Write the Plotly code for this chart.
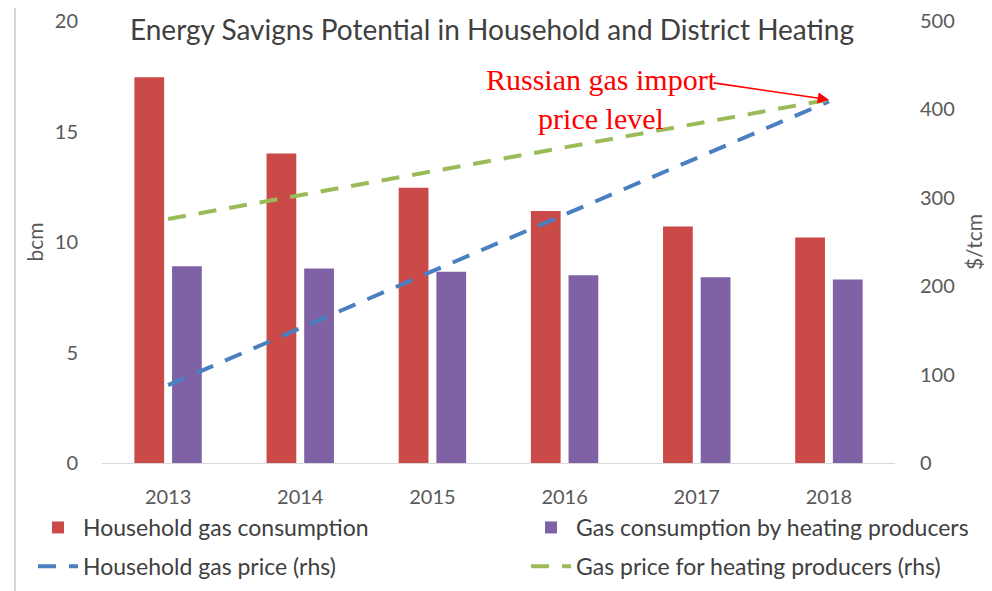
import plotly.graph_objects as go

years = ["2013", "2014", "2015", "2016", "2017", "2018"]
household_consumption = [17.45, 14.0, 12.45, 11.4, 10.7, 10.2]
heating_consumption = [8.9, 8.8, 8.65, 8.5, 8.4, 8.3]
household_price = [88, 153, 217, 281, 345, 409]
heating_price = [276, 303, 330, 357, 384, 411]

FONT = "Lato"
OFF = 8  # default page margin of the html body
W, H = 992 - OFF, 591 - OFF
L, R, T, B = 102 - OFF, 97, 21 - OFF, 128
PW, PH = W - L - R, H - T - B


def px(xs):
    return (xs - OFF - L) / PW


def py(ys):
    return (H - B - (ys - OFF)) / PH


fig = go.Figure()
fig.add_trace(go.Bar(x=years, y=household_consumption, name="Household gas consumption",
                     marker=dict(color="#C94A46", line=dict(width=0)),
                     legend="legend", legendgroup="a"))
fig.add_trace(go.Bar(x=years, y=heating_consumption, name="Gas consumption by heating producers",
                     marker=dict(color="#7F62A5", line=dict(width=0)),
                     legend="legend2", legendgroup="b"))
fig.add_trace(go.Scatter(x=years, y=household_price, name="Household gas price (rhs)",
                         yaxis="y2", mode="lines",
                         line=dict(color="#4A7FC1", width=4, dash="18px,13px"),
                         legend="legend", legendgroup="c"))
fig.add_trace(go.Scatter(x=years, y=heating_price, name="Gas price for heating producers (rhs)",
                         yaxis="y2", mode="lines",
                         line=dict(color="#9BBB59", width=4, dash="18px,13px"),
                         legend="legend2", legendgroup="d"))

tick_font = dict(family=FONT, size=20, color="#595959")
legend_font = dict(family=FONT, size=23, color="#404040")

fig.update_layout(
    width=W, height=H,
    margin=dict(l=L, r=R, t=T, b=B, autoexpand=False),
    paper_bgcolor="white", plot_bgcolor="white",
    barmode="group", bargap=0.43, bargroupgap=0.21,
    title=dict(text="Energy Savigns Potential in Household and District Heating",
               font=dict(family=FONT, size=28, color="#404040"),
               x=px(492), xanchor="center", xref="paper", y=1 - 22 / H, yanchor="middle"),
    xaxis=dict(type="category", range=[-0.5, 5.5], showgrid=False, showline=True,
               linecolor="#D9D9D9", linewidth=1, ticks="", tickfont=tick_font,
               ticklabelstandoff=16, zeroline=False),
    yaxis=dict(range=[0, 20], dtick=5, showgrid=False, zeroline=False, ticks="",
               tickfont=tick_font, ticklabelstandoff=23, ticklabeloverflow="allow",
               title=dict(text="bcm", font=dict(family=FONT, size=21, color="#595959"),
                          standoff=5)),
    yaxis2=dict(range=[0, 500], dtick=100, overlaying="y", side="right",
                showgrid=False, zeroline=False, ticks="", tickfont=tick_font,
                ticklabelstandoff=24, ticklabeloverflow="allow",
                title=dict(text="$/tcm", font=dict(family=FONT, size=21, color="#595959"),
                           standoff=13)),
    legend=dict(x=px(33), y=py(506), xanchor="left", yanchor="top",
                orientation="v", font=legend_font, tracegroupgap=6,
                bgcolor="rgba(0,0,0,0)", itemwidth=40),
    legend2=dict(x=px(526), y=py(506), xanchor="left", yanchor="top",
                 orientation="v", font=legend_font, tracegroupgap=6,
                 bgcolor="rgba(0,0,0,0)", itemwidth=40),
    showlegend=True,
)

# Annotation text and arrow
fig.add_annotation(text="Russian gas import<br>price level", xref="paper", yref="paper",
                   x=px(601), y=py(99), xanchor="center", yanchor="middle",
                   showarrow=False,
                   font=dict(family="Liberation Serif", size=30, color="#FF0000"))
fig.add_annotation(text="", xref="x", yref="y2", x=5, y=heating_price[-1],
                   showarrow=True, arrowhead=2, arrowsize=1.4, arrowwidth=1.6,
                   arrowcolor="#FF0000", ax=-117, ay=-17, standoff=0)

# Frame lines of the original chart area
fig.add_shape(type="line", xref="paper", yref="paper", x0=px(15), x1=px(15),
              y0=py(3), y1=py(591), line=dict(color="#C8C8C8", width=1.5))
fig.add_shape(type="line", xref="paper", yref="paper", x0=px(0), x1=px(992),
              y0=py(3), y1=py(3), line=dict(color="#D0D0D0", width=1.5))

fig.write_html("out.html")
